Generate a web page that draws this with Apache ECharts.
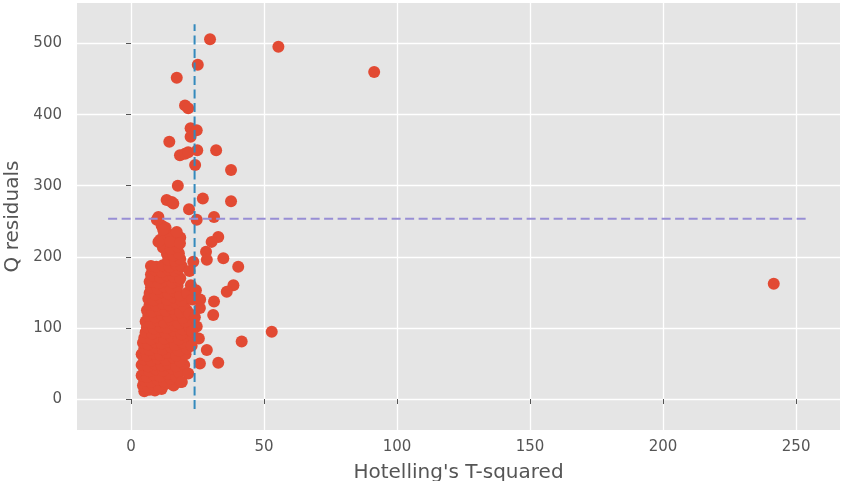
<!DOCTYPE html>
<html>
<head>
<meta charset="utf-8">
<script src="https://cdn.jsdelivr.net/npm/echarts@6/dist/echarts.min.js"></script>
<style>
html,body{margin:0;padding:0;background:#fff;}
#chart{width:845px;height:481px;}
</style>
</head>
<body>
<div id="chart"></div>
<script>
// [Hotelling's T-squared, Q residual] pairs
const coreObservations = [
  [5,11],[7,13],[9,12],[11.5,14],
  [4.5,19],[6.5,17],[8.5,20],[10.5,18],[13,21],[16,19],
  [5,26],[7.5,24],[10,27],[12.5,25],[15,28],[18.5,24],
  [4,33],[6,31],[8.5,34],[11,32],[14,35],[17,31],
  [5,41],[7,39],[9.5,42],[12,40],[15.5,43],[18,38],
  [4,48],[6.5,46],[9,49],[11.5,47],[14,50],[17,46],[20,48],
  [5,56],[7.5,54],[10,57],[13,55],[16,58],[18.5,53],
  [4,63],[6,61],[8.5,64],[11,62],[13.5,65],[17,61],[20.5,63],
  [5,71],[7,69],[9.5,72],[12,70],[15,73],[18,68],[21,71],
  [4.5,79],[6.5,77],[9,80],[11.5,78],[14,81],[16.5,76],[19.5,79],
  [5,86],[7.5,84],[10,87],[12.5,85],[15,88],[18,84],[21.5,86],
  [5.5,94],[8,92],[10.5,95],[13,93],[16,96],[19,91],
  [6,101],[8.5,99],[11,102],[13.5,100],[16.5,103],[19.5,98],[22,101],
  [5.5,109],[7.5,107],[10,110],[12.5,108],[15,111],[18,106],[20.5,109],
  [6.5,117],[9,115],[11.5,118],[14,116],[17,119],[19.5,114],
  [6,125],[8,123],[10.5,126],[13,124],[15.5,127],[18.5,122],[21,125],
  [7,133],[9.5,131],[12,134],[14.5,132],[17,135],[20,130],
  [6.5,141],[8.5,139],[11,142],[13.5,140],[16,143],[19,138],
  [7,149],[9,147],[11.5,150],[14,148],[16.5,151],[18.5,146],[21,149],
  [7.5,157],[10,155],[12.5,158],[15,156],[17.5,159],
  [7,165],[8,165],[10.5,163],[13,166],[15.5,164],[18,167],
  [7.5,175],[8.5,173],[11,171],[13.5,174],[16,172],[18.5,170],
  [9,181],[11.5,179],[14,182],[16.5,180],[18,184],
  [7.5,187],[9.5,186],[12,188],[14.5,186],[17,189],[19,187],
  [14,196],[16.5,194],[18.5,197],
  [13.5,204],[16,202],[18,205],
  [12,213],[15,211],[17.5,214],
  [11,224],[13.5,226],[16,223],[18.5,227],
  [12.5,233],[15,231],
  [11.5,244],[13,241],
  [22.5,160],[23,140],[22,120],[24.4,153],[25.9,128],[24.7,102],[23.5,88],
  [22.8,75],[21.5,36],[19.1,24],[25.9,50],[28.5,69],[23.4,193],[22,180],
  [24,115],[26,140],[23,95],[25.5,85]
];
const outlierObservations = [
  [29.7,506],[25.1,470],[17.2,452],[20.3,413],[21.5,409],[22.4,381],[24.7,378],
  [22.4,369],[14.4,362],[18.4,343],[20.3,345],[21.5,347],[24.9,350],[32,350],
  [24.1,329],[37.6,322],[17.6,300],[13.4,280],[15.3,277],[15.9,275],[27,282],
  [37.6,278],[21.8,267],[10.3,256],[31.2,256],[24.7,252],[9.7,252],[12.1,238],
  [17.2,235],[32.8,228],[30.3,221],[10.3,221],[14.7,221],[18.4,219],[28.2,207],
  [34.7,198],[28.5,196],[40.3,186],[38.5,160],[36,151],[31.2,137],[30.9,118],
  [41.6,81],[32.8,51],[55.4,495.5],[91.4,460],[52.9,94.7],[241.6,162]
];
// control limits
const tSquaredLimit = 23.9;
const tLimitSpan = [-14, 527];
const qLimit = 253.6;
const qLimitSpan = [-8.6, 254];
// axis ticks
const xTicks = [0, 50, 100, 150, 200, 250];
const yTicks = [0, 100, 200, 300, 400, 500];

const tickColor = '#555555';
const font = 'DejaVu Sans';
const chart = echarts.init(document.getElementById('chart'), null, {renderer: 'canvas'});
chart.setOption({
  animation: false,
  backgroundColor: '#ffffff',
  grid: {left: 77, right: 5, top: 3, bottom: 51, show: true, backgroundColor: '#E5E5E5', borderWidth: 0,
         containLabel: false, outerBoundsMode: 'none'},
  xAxis: {
    type: 'value', min: -20.3, max: 266.5,
    name: "Hotelling's T-squared", nameLocation: 'middle', nameGap: 33,
    nameTextStyle: {fontSize: 20, color: tickColor, fontFamily: font},
    axisLine: {show: false},
    axisTick: {show: true, customValues: xTicks, length: 5, lineStyle: {color: tickColor, width: 1}},
    axisLabel: {customValues: xTicks, color: tickColor, fontSize: 15, fontFamily: font, margin: 10},
    splitLine: {show: true, lineStyle: {color: '#ffffff', width: 1.3}}
  },
  yAxis: {
    type: 'value', min: -43.6, max: 557,
    name: 'Q residuals', nameLocation: 'middle', nameGap: 54,
    nameTextStyle: {fontSize: 20, color: tickColor, fontFamily: font},
    axisLine: {show: false},
    axisTick: {show: true, customValues: yTicks, length: 5, lineStyle: {color: tickColor, width: 1}},
    axisLabel: {customValues: yTicks, color: tickColor, fontSize: 15, fontFamily: font, margin: 15},
    splitLine: {show: true, lineStyle: {color: '#ffffff', width: 1.3}}
  },
  series: [
    {type: 'scatter', data: coreObservations.concat(outlierObservations), symbolSize: 12,
     itemStyle: {color: '#E24A33', opacity: 1}, silent: true, z: 2},
    {type: 'line', data: [[tSquaredLimit, tLimitSpan[0]], [tSquaredLimit, tLimitSpan[1]]], symbol: 'none',
     lineStyle: {color: '#348ABD', width: 2, type: [9, 4.5]}, silent: true, z: 3},
    {type: 'line', data: [[qLimitSpan[0], qLimit], [qLimitSpan[1], qLimit]], symbol: 'none',
     lineStyle: {color: '#988ED5', width: 2, type: [9, 4.5]}, silent: true, z: 3}
  ]
});
</script>
</body>
</html>
